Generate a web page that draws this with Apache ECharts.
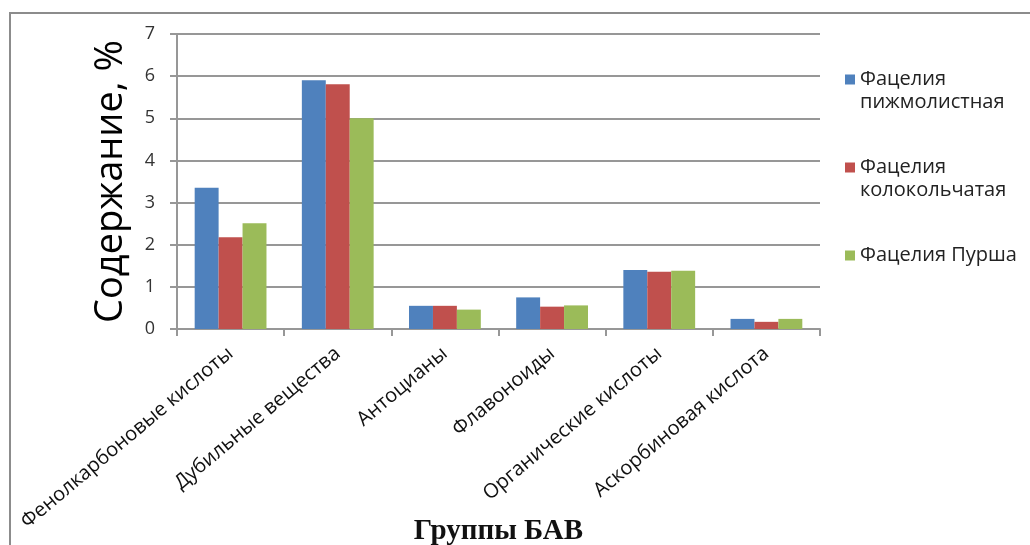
<!DOCTYPE html>
<html>
<head>
<meta charset="utf-8">
<script src="https://cdn.jsdelivr.net/npm/echarts@6/dist/echarts.min.js"></script>
<style>
  html, body { margin: 0; padding: 0; background: #fff; }
  #chart { width: 1030px; height: 545px; }
</style>
</head>
<body>
<div id="chart"></div>
<script>
// Groups of biologically active substances
const categories = [
  'Фенолкарбоновые кислоты',
  'Дубильные вещества',
  'Антоцианы',
  'Флавоноиды',
  'Органические кислоты',
  'Аскорбиновая кислота'
];

// Content, % for each Phacelia species
const seriesNames = ['Фацелия пижмолистная', 'Фацелия колокольчатая', 'Фацелия Пурша'];
const pizhmolistnaya = [3.35, 5.90, 0.55, 0.75, 1.40, 0.24];
const kolokolchataya = [2.18, 5.81, 0.55, 0.53, 1.36, 0.17];
const pursha = [2.51, 5.00, 0.46, 0.56, 1.38, 0.24];

const yTicks = [0, 1, 2, 3, 4, 5, 6, 7];

const colors = ['#4F81BD', '#C0504D', '#9BBB59'];
const gridGray = '#979797';

// Legend labels: first line sits beside the marker, the rest wraps below
const legendLabel = {
  'Фацелия пижмолистная': ' \nФацелия\nпижмолистная',
  'Фацелия колокольчатая': ' \nФацелия\nколокольчатая',
  'Фацелия Пурша': ' \nФацелия Пурша\n '
};

const chart = echarts.init(document.getElementById('chart'), null, { renderer: 'canvas' });

const seriesData = [pizhmolistnaya, kolokolchataya, pursha];

chart.setOption({
  animation: false,
  backgroundColor: '#ffffff',
  color: colors,
  grid: {
    left: 177, right: 210, top: 34, bottom: 216,
    containLabel: false,
    outerBoundsMode: 'none'
  },
  legend: {
    orient: 'vertical',
    left: 840,
    top: 40,
    icon: 'rect',
    itemWidth: 10,
    itemHeight: 10,
    itemGap: 19,
    data: seriesNames,
    formatter: name => legendLabel[name],
    textStyle: {
      fontFamily: 'Open Sans',
      fontSize: 20,
      lineHeight: 23,
      color: '#222'
    }
  },
  xAxis: {
    type: 'category',
    data: categories,
    name: 'Группы БАВ',
    nameLocation: 'middle',
    nameGap: 188,
    nameMoveOverlap: false,
    nameTextStyle: {
      fontFamily: 'Liberation Serif',
      fontWeight: 'bold',
      fontSize: 29,
      color: '#111'
    },
    axisLine: { lineStyle: { color: gridGray, width: 2 } },
    axisTick: { show: true, length: 7, lineStyle: { color: gridGray, width: 2 } },
    axisLabel: {
      interval: 0,
      rotate: 40,
      margin: 22,
      fontFamily: 'Open Sans',
      fontSize: 20,
      color: '#111'
    }
  },
  yAxis: {
    type: 'value',
    min: yTicks[0],
    max: yTicks[yTicks.length - 1],
    interval: 1,
    name: 'Содержание, %',
    nameLocation: 'middle',
    nameGap: 47,
    nameTextStyle: {
      fontFamily: 'Open Sans',
      fontSize: 38,
      color: '#000'
    },
    axisLine: { show: true, lineStyle: { color: gridGray, width: 2 } },
    axisTick: { show: true, length: 7, lineStyle: { color: gridGray, width: 2 } },
    axisLabel: {
      margin: 22,
      fontFamily: 'Open Sans',
      fontSize: 18,
      color: '#333'
    },
    splitLine: { show: true, lineStyle: { color: gridGray, width: 2 } }
  },
  series: seriesData.map((vals, i) => ({
    name: seriesNames[i],
    type: 'bar',
    data: vals,
    barGap: '0%',
    barCategoryGap: '33%',
    itemStyle: { color: colors[i] }
  })),
  graphic: [
    {
      type: 'polyline',
      shape: { points: [[10, 545], [10, 13], [1030, 13]] },
      style: { stroke: '#8c8c8c', lineWidth: 2, fill: null },
      silent: true
    }
  ]
});
</script>
</body>
</html>
